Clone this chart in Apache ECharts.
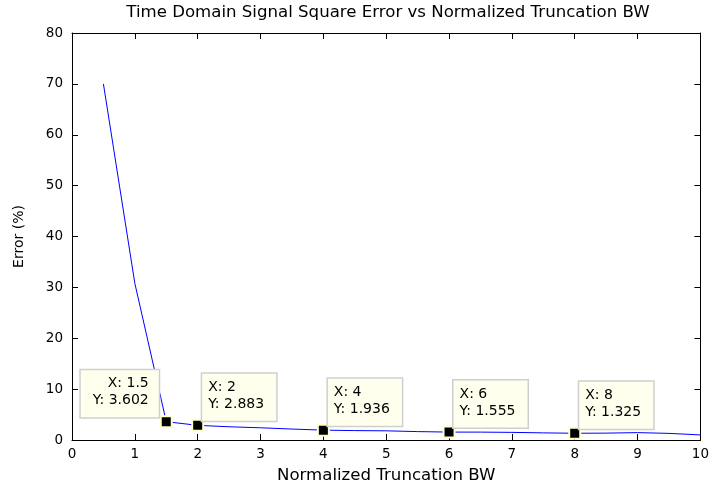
<!DOCTYPE html>
<html><head><meta charset="utf-8">
<script src="https://cdn.jsdelivr.net/npm/echarts@6/dist/echarts.min.js"></script>
<style>html,body{margin:0;padding:0;background:#fff}#c{width:712px;height:489px}</style>
</head><body><div id="c"></div>
<script>
const xValues = [0.5, 1, 1.5, 2, 2.5, 3, 3.5, 4, 4.5, 5, 5.5, 6, 6.5, 7, 7.5, 8, 8.5, 9, 9.5, 10];
const errorValues = [70, 30.8, 3.602, 2.883, 2.6, 2.4, 2.15, 1.936, 1.85, 1.8, 1.65, 1.555, 1.55, 1.5, 1.4, 1.325, 1.35, 1.45, 1.3, 1.0];
const tipX = [1.5, 2, 4, 6, 8];
const tipY = [3.602, 2.883, 1.936, 1.555, 1.325];
const titleText = 'Time Domain Signal Square Error vs Normalized Truncation BW';
const xName = 'Normalized Truncation BW';
const yName = 'Error (%)';

const FONT = 'DejaVu Sans';
const lineData = xValues.map((x, i) => [x, errorValues[i]]);
const tipData = tipX.map((x, i) => {
  const left = i === 0;
  return {
    value: [x, tipY[i]],
    label: left
      ? { position: [-1, -45], align: 'right', padding: [5, 10, 8, 6] }
      : { position: [11, -45], align: 'left', padding: [5, 6, 8, 6] }
  };
});

const baseX = {
  type: 'value', min: 0, max: 10, interval: 1,
  axisLine: { show: true, onZero: false, lineStyle: { color: '#000', width: 1 } },
  axisTick: { show: true, inside: true, length: 6, lineStyle: { color: '#000' } },
  splitLine: { show: false }
};
const baseY = {
  type: 'value', min: 0, max: 80, interval: 10,
  axisLine: { show: true, onZero: false, lineStyle: { color: '#000', width: 1 } },
  axisTick: { show: true, inside: true, length: 6, lineStyle: { color: '#000' } },
  splitLine: { show: false }
};

const chart = echarts.init(document.getElementById('c'), null, { renderer: 'canvas' });
chart.setOption({
  animation: false,
  backgroundColor: '#fff',
  title: {
    text: titleText, left: 388, top: 4, padding: 0, textAlign: 'center',
    textStyle: { fontFamily: FONT, fontSize: 16.6, fontWeight: 'normal', color: '#000' }
  },
  grid: { left: 72, right: 9, top: 33, bottom: 45 },
  xAxis: [
    Object.assign({}, baseX, {
      position: 'bottom',
      axisLabel: { color: '#000', fontFamily: FONT, fontSize: 13.5, margin: 7 },
      name: xName, nameLocation: 'middle', nameGap: 27,
      nameTextStyle: { fontFamily: FONT, fontSize: 16.6, color: '#000' }
    }),
    Object.assign({}, baseX, { position: 'top', axisLabel: { show: false } })
  ],
  yAxis: [
    Object.assign({}, baseY, {
      position: 'left',
      axisLabel: { color: '#000', fontFamily: FONT, fontSize: 13.5, margin: 9 },
      name: yName, nameLocation: 'middle', nameGap: 46,
      nameTextStyle: { fontFamily: FONT, fontSize: 14, color: '#000' }
    }),
    Object.assign({}, baseY, { position: 'right', axisLabel: { show: false } })
  ],
  series: [
    {
      type: 'line', data: lineData, showSymbol: false, symbol: 'none',
      lineStyle: { color: '#0000ff', width: 1 }, z: 2
    },
    {
      type: 'scatter', data: tipData, symbol: 'rect', symbolSize: 11, z: 5,
      itemStyle: { color: '#000', borderColor: '#ffffcc', borderWidth: 2, opacity: 1 },
      label: {
        show: true,
        formatter: p => 'X: ' + p.value[0] + '\nY: ' + p.value[1],
        fontFamily: FONT, fontSize: 14, lineHeight: 17, color: '#000',
        backgroundColor: '#ffffee', borderColor: '#cfcfcf', borderWidth: 1.5,
        width: 62, verticalAlign: 'top'
      }
    }
  ]
});
</script></body></html>
